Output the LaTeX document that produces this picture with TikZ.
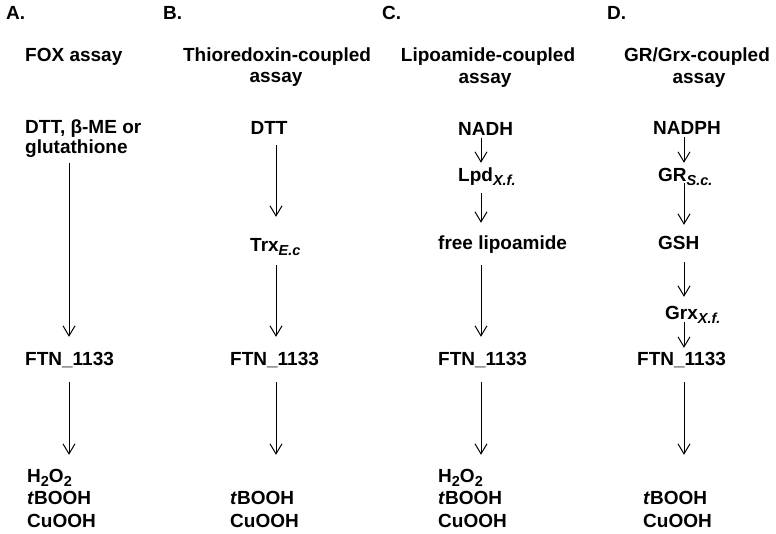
\documentclass[tikz,border=0pt]{standalone}
\usepackage{fontspec}
\setmainfont{Liberation Sans}
\usetikzlibrary{arrows.meta}
\newcommand\lsub[1]{\raisebox{-4pt}{\fontsize{14.5}{14.5}\selectfont\itshape #1}}
\newcommand\nsub[1]{\raisebox{-4pt}{\fontsize{14.5}{14.5}\selectfont #1}}
\begin{document}
\begin{tikzpicture}[x=1pt,y=1pt,
  font=\fontsize{19}{22}\selectfont\bfseries,
  txt/.style={inner sep=0pt, text height=14pt, text depth=4pt, anchor=base west},
  ctr/.style={inner sep=0pt, text height=14pt, text depth=4pt, anchor=base},
  lbl/.style={inner sep=0pt, anchor=base west, font=\fontsize{19}{22}\selectfont\bfseries},
  arr/.style={-{Straight Barb[length=10pt,width=12pt]}, line width=1pt}]
\useasboundingbox (0,0) rectangle (776,-534);
\coordinate (xA) at (69,0);
\coordinate (xB) at (276,0);
\coordinate (xC) at (481,0);
\coordinate (xD) at (684,0);
% column A
\node[lbl] (la) at (6,-20) {A.};
\node[txt] (tA) at (25,-62) {FOX assay};
\node[txt] (dttA) at (25,-134) {DTT, β-ME or};
\node[txt] (glutA) at (25,-154) {glutathione};
\node[txt] (ftnA) at (25,-366) {FTN\_1133};
\node[txt] (h2A) at (27,-482) {H\nsub{2}O\nsub{2}};
\node[txt] (tbA) at (27,-504) {\textit{t}BOOH};
\node[txt] (cuA) at (27,-527) {CuOOH};
% column B
\node[lbl] (lb) at (163,-20) {B.};
\node[ctr] (tB1) at (277,-62) {Thioredoxin-coupled};
\node[ctr] (tB2) at (276,-83) {assay};
\node[ctr] (dttB) at (269,-135) {DTT};
\node[txt] (trx) at (250,-252) {Trx\lsub{E.c}};
\node[txt] (ftnB) at (230,-366) {FTN\_1133};
\node[txt] (tbB) at (230,-504) {\textit{t}BOOH};
\node[txt] (cuB) at (230,-527) {CuOOH};
% column C
\node[lbl] (lc) at (382,-20) {C.};
\node[ctr] (tC1) at (488,-62) {Lipoamide-coupled};
\node[ctr] (tC2) at (485,-84) {assay};
\node[txt] (nadh) at (458,-136) {NADH};
\node[txt] (lpd) at (458,-182) {Lpd\lsub{X.f.}};
\node[txt] (lipo) at (438,-250) {free lipoamide};
\node[txt] (ftnC) at (438,-366) {FTN\_1133};
\node[txt] (h2C) at (438,-482) {H\nsub{2}O\nsub{2}};
\node[txt] (tbC) at (438,-504) {\textit{t}BOOH};
\node[txt] (cuC) at (438,-527) {CuOOH};
% column D
\node[lbl] (ld) at (607,-20) {D.};
\node[ctr] (tD1) at (697,-62) {GR/Grx-coupled};
\node[ctr] (tD2) at (699,-84) {assay};
\node[txt] (nadph) at (653,-135) {NADPH};
\node[txt] (gr) at (658,-182) {GR\lsub{S.c.}};
\node[txt] (gsh) at (658,-250) {GSH};
\node[txt] (grx) at (665,-320) {Grx\lsub{X.f.}};
\node[txt] (ftnD) at (637,-366) {FTN\_1133};
\node[txt] (tbD) at (643,-504) {\textit{t}BOOH};
\node[txt] (cuD) at (643,-527) {CuOOH};
% arrows A
\draw[arr, shorten <=5pt, shorten >=15pt] (glutA.south -| xA) -- (ftnA.north -| xA);
\draw[arr, shorten <=12pt, shorten >=13pt] (ftnA.south -| xA) -- (h2A.north -| xA);
% arrows B
\draw[arr, shorten <=6pt, shorten >=21pt] (dttB.south -| xB) -- (trx.north -| xB);
\draw[arr, shorten <=9pt, shorten >=15pt] (trx.south -| xB) -- (ftnB.north -| xB);
\draw[arr, shorten <=12pt, shorten >=35pt] (ftnB.south -| xB) -- (tbB.north -| xB);
% arrows C
\draw[arr, shorten <=-2pt, shorten >=5pt] (nadh.south -| xC) -- (lpd.north -| xC);
\draw[arr, shorten <=7pt, shorten >=13pt] (lpd.south -| xC) -- (lipo.north -| xC);
\draw[arr, shorten <=11pt, shorten >=15pt] (lipo.south -| xC) -- (ftnC.north -| xC);
\draw[arr, shorten <=12pt, shorten >=13pt] (ftnC.south -| xC) -- (h2C.north -| xC);
% arrows D
\draw[arr, shorten <=-2pt, shorten >=5pt] (nadph.south -| xD) -- (gr.north -| xD);
\draw[arr, shorten <=-3pt, shorten >=11pt] (gr.south -| xD) -- (gsh.north -| xD);
\draw[arr, shorten <=8pt, shorten >=9pt] (gsh.south -| xD) -- (grx.north -| xD);
\draw[arr, shorten <=-2pt, shorten >=4pt] (grx.south -| xD) -- (ftnD.north -| xD);
\draw[arr, shorten <=12pt, shorten >=35pt] (ftnD.south -| xD) -- (tbD.north -| xD);
\end{tikzpicture}
\end{document}
